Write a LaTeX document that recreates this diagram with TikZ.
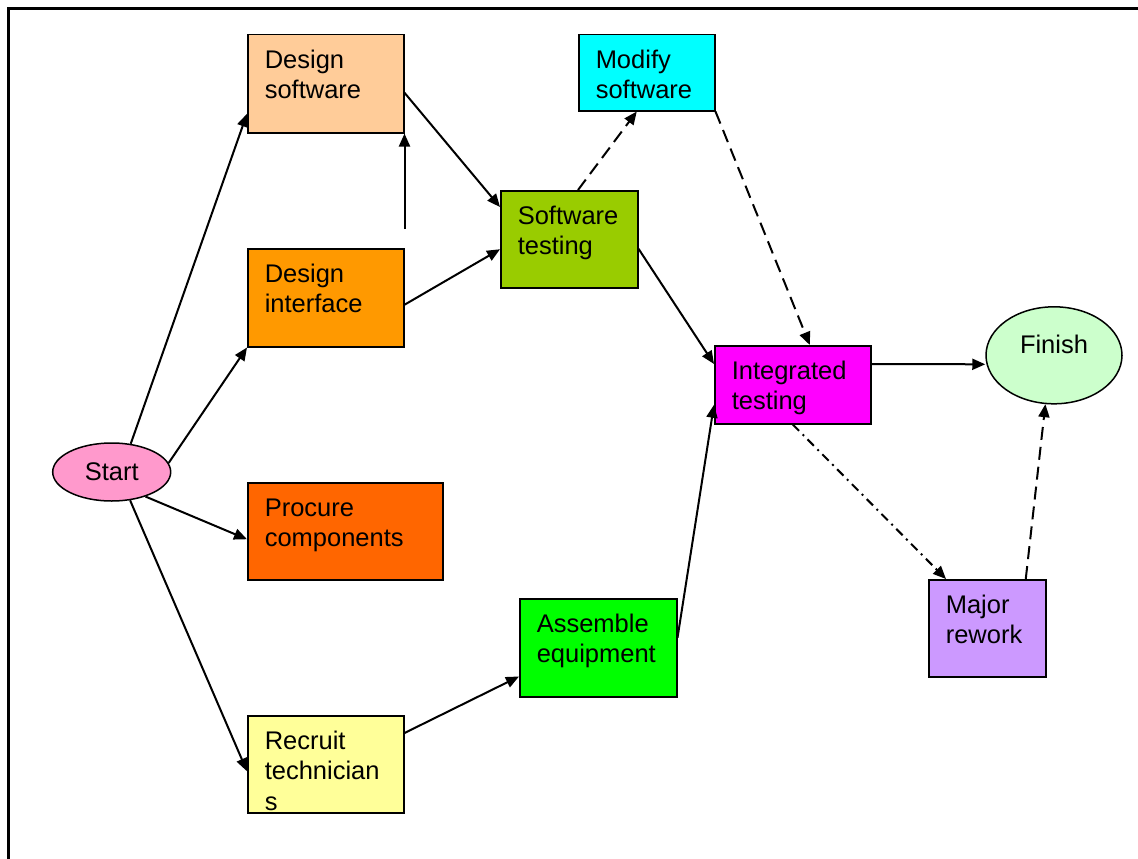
\documentclass[tikz,border=0pt]{standalone}
\usepackage{fontspec}
\setmainfont{Liberation Sans}
\usetikzlibrary{arrows.meta,shapes.geometric}
\definecolor{dswfill}{HTML}{FFCC99}
\definecolor{diffill}{HTML}{FF9900}
\definecolor{profill}{HTML}{FF6600}
\definecolor{recfill}{HTML}{FFFF99}
\definecolor{stfill}{HTML}{99CC00}
\definecolor{modfill}{HTML}{00FFFF}
\definecolor{intfill}{HTML}{FF00FF}
\definecolor{asfill}{HTML}{00FF00}
\definecolor{majfill}{HTML}{CC99FF}
\definecolor{finfill}{HTML}{CCFFCC}
\definecolor{startfill}{HTML}{FF99CC}
\tikzset{
    task/.style={draw, line width=1.5pt, anchor=north west, inner xsep=17pt,
      inner ysep=0pt, align=left, text height=33.3pt},
    endpt/.style={draw, line width=1.5pt, ellipse, inner sep=0pt},
    link/.style={line width=2pt, -{Triangle[length=13pt,width=11pt]}},
    linkdash/.style={link, dash pattern=on 13pt off 7pt},
    linkdot/.style={link, dash pattern=on 9pt off 5pt on 2pt off 5pt}
}
\begin{document}
\begin{tikzpicture}[x=1pt, y=-1pt, font=\fontsize{25.5pt}{30.5pt}\selectfont]
    \useasboundingbox (0,0) rectangle (1138,859);
    \draw[line width=2.2pt] (8.5,859) -- (8.5,8.5) -- (1138,8.5);

    \node[endpt, fill=startfill, minimum width=118pt, minimum height=58pt] (start) at (111.7,472) {Start};
    \node[task, fill=dswfill, text width=122pt, text depth=64.7pt] (dsw) at (247,34) {Design\\software};
    \node[task, fill=diffill, text width=122pt, text depth=64.7pt] (dif) at (247,248) {Design\\interface};
    \node[task, fill=profill, text width=161pt, text depth=63.7pt] (pro) at (247,482) {Procure\\components};
    \node[task, fill=recfill, text width=122pt, text depth=63.7pt] (rec) at (247,715) {Recruit\\technician\\s};
    \node[task, fill=stfill, text width=103pt, text depth=63.7pt] (st) at (500,190) {Software\\testing};
    \node[task, fill=modfill, text width=102pt, text depth=42.7pt] (mod) at (578,34) {Modify\\software};
    \node[task, fill=intfill, text width=122pt, text depth=44.7pt] (int) at (714,345) {Integrated\\testing};
    \node[task, fill=asfill, text width=123pt, text depth=64.7pt] (as) at (519,598) {Assemble\\equipment};
    \node[task, fill=majfill, text width=83pt, text depth=63.7pt] (maj) at (928,579) {Major\\rework};
    \node[endpt, fill=finfill, minimum width=136pt, minimum height=97pt,
      text height=18.6pt, text depth=23pt] (fin) at (1054,355.3) {Finish};

    \draw[link] (start.56) -- ([yshift=-30pt]dsw.west);
    \draw[link] (start.9) -- (dif.south west);
    \draw[link] (start.-36) -- ([yshift=-8pt]pro.west);
    \draw[link] (start.-57) -- ([yshift=-7pt]rec.west);
    \draw[link] ([yshift=19pt]dif.north east) -- (dsw.south east);
    \draw[link] ([yshift=-9pt]dsw.east) -- ([yshift=-17pt]st.north west);
    \draw[link] ([yshift=-7pt]dif.east) -- ([yshift=-10pt]st.west);
    \draw[linkdash] ([xshift=78pt]st.north west) -- ([xshift=-10pt]mod.south);
    \draw[link] ([yshift=-9.5pt]st.east) -- ([yshift=-19pt]int.north west);
    \draw[linkdash] (mod.south east) -- ([xshift=17pt]int.north);
    \draw[link] ([yshift=-19pt]int.north east) -- ([yshift=-9pt]fin.west);
    \draw[link] ([yshift=-18pt]rec.north east) -- ([yshift=21pt]as.south west);
    \draw[link] ([yshift=10pt]as.east) -- ([yshift=-20pt]int.west);
    \draw[linkdot] (int.south) -- ([xshift=18pt]maj.north west);
    \draw[linkdash] ([xshift=38.5pt]maj.north) -- (fin.-100);
\end{tikzpicture}
\end{document}
